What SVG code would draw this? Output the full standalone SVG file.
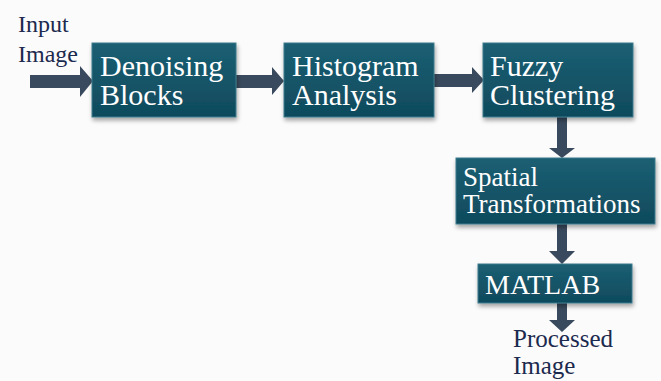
<svg xmlns="http://www.w3.org/2000/svg" width="661" height="381" viewBox="0 0 661 381">
<defs>
<linearGradient id="boxg" x1="0" y1="0" x2="0" y2="1">
<stop offset="0" stop-color="#1c5f73"/>
<stop offset="1" stop-color="#0f4a5d"/>
</linearGradient>
<filter id="sh" x="-10%" y="-10%" width="130%" height="140%">
<feDropShadow dx="1" dy="3" stdDeviation="2" flood-color="#000" flood-opacity="0.35"/>
</filter>
</defs>
<style>
.box{fill:url(#boxg);stroke:#3d7a8c;stroke-width:1;filter:url(#sh)}
.bt{font-family:"Liberation Serif","DejaVu Serif",serif;fill:#ffffff;font-size:30px}
.lt{font-family:"Liberation Serif","DejaVu Serif",serif;fill:#1b2a4e;font-size:24px}
.arr{fill:#3a4a5e}
</style>
<rect width="661" height="381" fill="#fbfbfb"/>
<g id="connectors">
<polygon class="arr" points="30,75 80,75 80,66 93,81 80,97 80,88 30,88"/>
<polygon class="arr" points="236,75 272,75 272,67 284,81 272,95 272,88 236,88"/>
<polygon class="arr" points="434,74 472,74 472,67 484,80 472,93 472,87 434,87"/>
<polygon class="arr" points="557,117 567,117 567,148 575,148 562,158 549,148 557,148"/>
<polygon class="arr" points="557,224 567,224 567,251 575,251 562,264 549,251 557,251"/>
<polygon class="arr" points="557,303 567,303 567,320 575,320 562,332 549,320 557,320"/>
</g>
<g id="input-label">
<text class="lt" x="18" y="32">Input</text>
<text class="lt" x="18" y="62">Image</text>
</g>
<g id="denoising">
<rect class="box" x="92" y="43" width="144" height="74"/>
<text class="bt" x="100" y="76">Denoising</text>
<text class="bt" x="100" y="105">Blocks</text>
</g>
<g id="histogram">
<rect class="box" x="284" y="43" width="150" height="74"/>
<text class="bt" x="292" y="76">Histogram</text>
<text class="bt" x="292" y="105">Analysis</text>
</g>
<g id="fuzzy">
<rect class="box" x="483" y="43" width="150" height="74"/>
<text class="bt" x="490" y="76">Fuzzy</text>
<text class="bt" x="490" y="105">Clustering</text>
</g>
<g id="spatial">
<rect class="box" x="456" y="158" width="199" height="66"/>
<text class="bt" x="463" y="186" style="font-size:27px">Spatial</text>
<text class="bt" x="463" y="213" style="font-size:27px">Transformations</text>
</g>
<g id="matlab">
<rect class="box" x="478" y="264" width="154" height="39"/>
<text class="bt" x="485" y="294" style="font-size:28px">MATLAB</text>
</g>
<g id="output-label">
<text class="lt" x="513" y="347" style="font-size:25px">Processed</text>
<text class="lt" x="513" y="374" style="font-size:25px">Image</text>
</g>
</svg>
